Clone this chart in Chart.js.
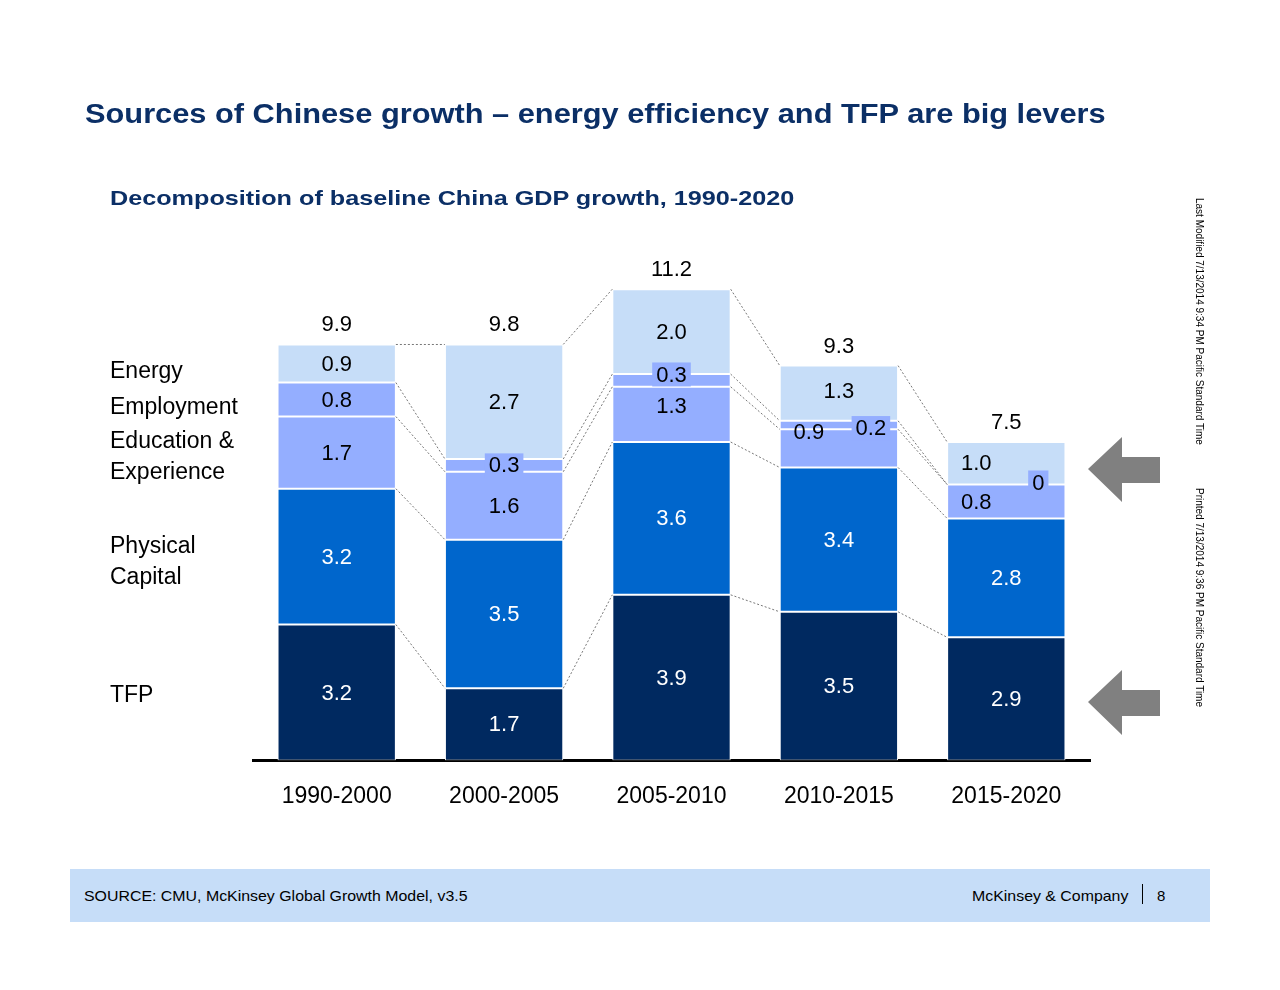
<!DOCTYPE html>
<html><head><meta charset="utf-8">
<script src="https://cdn.jsdelivr.net/npm/chart.js@4/dist/chart.umd.min.js"></script>
<style>
body{margin:0;width:1280px;height:990px;background:#fff;font-family:"Liberation Sans",Arial,sans-serif;position:relative;overflow:hidden}
#c{position:absolute;left:0;top:0}
.t{position:absolute;white-space:nowrap}
</style></head><body>
<canvas id="c" width="1280" height="990"></canvas>
<div class="t" style="left:85px;top:99px;font-size:27px;font-weight:bold;color:#0B2F66;transform-origin:0 0;transform:scaleX(1.14)">Sources of Chinese growth – energy efficiency and TFP are big levers</div>
<div class="t" style="left:110px;top:186px;font-size:21px;font-weight:bold;color:#0B2F66;transform-origin:0 0;transform:scaleX(1.2)">Decomposition of baseline China GDP growth, 1990-2020</div>
<div class="t" style="left:110px;top:352px;font-size:23px;line-height:36px">Energy<br>Employment</div>
<div class="t" style="left:110px;top:425px;font-size:23px;line-height:31px">Education &amp;<br>Experience</div>
<div class="t" style="left:110px;top:530px;font-size:23px;line-height:31px">Physical<br>Capital</div>
<div class="t" style="left:110px;top:681px;font-size:23px">TFP</div>
<svg class="t" style="left:1086px;top:436px" width="76" height="300">
<polygon points="2,33 36,1 36,21 74,21 74,47 36,47 36,66" fill="#808080"/>
<polygon points="2,266 36,234 36,254 74,254 74,280 36,280 36,299" fill="#808080"/>
</svg>
<div class="t" style="left:1193px;top:198px;font-size:10px;transform-origin:0 0;transform:rotate(90deg) translate(0,-12px);">Last Modified 7/13/2014 9:34 PM Pacific Standard Time</div>
<div class="t" style="left:1193px;top:488px;font-size:10px;transform-origin:0 0;transform:rotate(90deg) translate(0,-12px);">Printed 7/13/2014 9:36 PM Pacific Standard Time</div>
<div class="t" style="left:70px;top:869px;width:1140px;height:53px;background:#C6DDF8"></div>
<div class="t" style="left:84px;top:887px;font-size:15px;transform-origin:0 0;transform:scaleX(1.06)">SOURCE: CMU, McKinsey Global Growth Model, v3.5</div>
<div class="t" style="left:972px;top:887px;font-size:15px;transform-origin:0 0;transform:scaleX(1.06)">McKinsey &amp; Company</div>
<div class="t" style="left:1157px;top:887px;font-size:15px">8</div>
<div class="t" style="left:1142px;top:884px;width:1px;height:20px;background:#000"></div>
<script>
const categories=["1990-2000","2000-2005","2005-2010","2010-2015","2015-2020"];
const tfp=[3.2,1.7,3.9,3.5,2.9];
const physicalCapital=[3.2,3.5,3.6,3.4,2.8];
const education=[1.7,1.6,1.3,0.9,0.8];
const employment=[0.8,0.3,0.3,0.2,0];
const energy=[0.9,2.7,2.0,1.3,1.0];
const totals=["9.9","9.8","11.2","9.3","7.5"];
const labelsText=[
 ["3.2","1.7","3.9","3.5","2.9"],
 ["3.2","3.5","3.6","3.4","2.8"],
 ["1.7","1.6","1.3","0.9","0.8"],
 ["0.8","0.3","0.3","0.2","0"],
 ["0.9","2.7","2.0","1.3","1.0"]];
const colors=["#002960","#0066CC","#94AEFF","#94AEFF","#C6DDF8"];
const txtColors=["#fff","#fff","#000","#000","#000"];
const offs={"2,3":[-30,-16,0],"3,1":[0,0,1],"3,2":[0,-6,1],"3,3":[32,3,1],"3,4":[32,-2,1],"2,4":[-30,0,0],"4,4":[-30,0,0],"4,3":[0,-2,0],"2,2":[0,-8,0]};
const series=[tfp,physicalCapital,education,employment,energy];
const plug={id:'p',afterDatasetsDraw(ch){
 const c=ch.ctx,x=ch.scales.x,y=ch.scales.y;
 const bw=ch.getDatasetMeta(0).data[0].width;
 c.save();
 c.strokeStyle="#555";c.lineWidth=0.8;c.setLineDash([2,2]);
 for(let i=0;i<4;i++){let a=0,b=0;
  for(let s=0;s<5;s++){a+=series[s][i];b+=series[s][i+1];
   c.beginPath();c.moveTo(x.getPixelForValue(i)+bw/2,y.getPixelForValue(a));c.lineTo(x.getPixelForValue(i+1)-bw/2,y.getPixelForValue(b));c.stroke();}}
 c.setLineDash([]);
 c.font="22px 'Liberation Sans',Arial";c.textAlign="center";c.textBaseline="middle";
 for(let i=0;i<5;i++){let cum=0;
  for(let s=0;s<5;s++){const v=series[s][i];
   const o=offs[s+","+i]||[0,0,0];
   const px=x.getPixelForValue(i)+o[0],py=y.getPixelForValue(cum+v/2)+o[1];
   if(o[2]){const w=c.measureText(labelsText[s][i]).width+8;c.fillStyle="#94AEFF";c.fillRect(px-w/2,py-12,w,24);}
   c.fillStyle=txtColors[s];c.fillText(labelsText[s][i],px,py+1);cum+=v;}
  c.fillStyle="#000";c.fillText(totals[i],x.getPixelForValue(i),y.getPixelForValue(cum)-19);}
 c.restore();}};
new Chart(document.getElementById('c'),{type:'bar',
 data:{labels:categories,datasets:series.map((d,k)=>({data:d,backgroundColor:colors[k],borderColor:"#fff",borderWidth:1,borderSkipped:false}))},
 options:{responsive:false,animation:false,events:[],
  layout:{padding:{left:253,right:190,top:251,bottom:166}},
  plugins:{legend:{display:false},tooltip:{enabled:false}},
  datasets:{bar:{categoryPercentage:1,barPercentage:0.707}},
  scales:{x:{stacked:true,grid:{display:false},border:{color:"#000",width:3},ticks:{color:"#000",font:{size:23,family:"'Liberation Sans',Arial"},padding:14}},
   y:{stacked:true,display:false,min:0,max:12}}}
 ,plugins:[plug]});
</script></body></html>
